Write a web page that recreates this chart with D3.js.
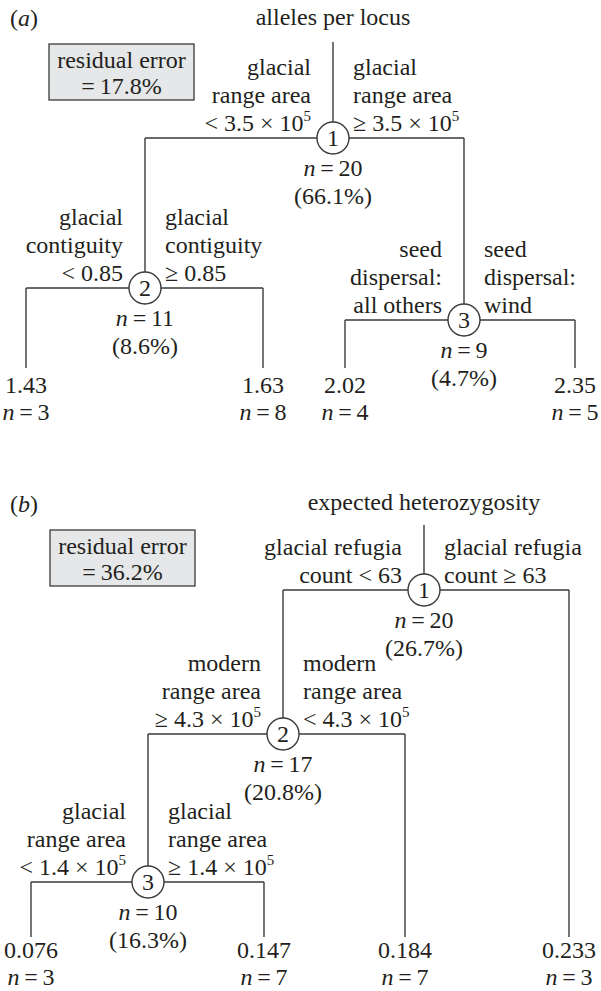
<!DOCTYPE html>
<html>
<head>
<meta charset="utf-8">
<script src="https://cdn.jsdelivr.net/npm/d3@7"></script>
<style>
  body { margin: 0; background: #fff; }
  svg { display: block; font-family: "Liberation Serif", "Times New Roman", serif; }
</style>
</head>
<body>
<svg id="chart" width="601" height="991"></svg>
<script>
// ---- panel (a): alleles per locus
const titleA = 'alleles per locus';
const residualA = '17.8%';
const splitIdsA = ['1', '2', '3'];
const splitParentA = [null, '1', '1'];
const splitNA = [20, 11, 9];
const splitPctA = ['66.1%', '8.6%', '4.7%'];
const leftRuleA = [['glacial', 'range area', '< 3.5 × 10^5'], ['glacial', 'contiguity', '< 0.85'], ['seed', 'dispersal:', 'all others']];
const rightRuleA = [['glacial', 'range area', '≥ 3.5 × 10^5'], ['glacial', 'contiguity', '≥ 0.85'], ['seed', 'dispersal:', 'wind']];
const leafParentA = ['2', '2', '3', '3'];
const leafValueA = ['1.43', '1.63', '2.02', '2.35'];
const leafNA = [3, 8, 4, 5];

// ---- panel (b): expected heterozygosity
const titleB = 'expected heterozygosity';
const residualB = '36.2%';
const splitIdsB = ['1', '2', '3'];
const splitParentB = [null, '1', '2'];
const splitNB = [20, 17, 10];
const splitPctB = ['26.7%', '20.8%', '16.3%'];
const leftRuleB = [['glacial refugia', 'count < 63'], ['modern', 'range area', '≥ 4.3 × 10^5'], ['glacial', 'range area', '< 1.4 × 10^5']];
const rightRuleB = [['glacial refugia', 'count ≥ 63'], ['modern', 'range area', '< 4.3 × 10^5'], ['glacial', 'range area', '≥ 1.4 × 10^5']];
const leafParentB = ['3', '3', '2', '1'];
const leafValueB = ['0.076', '0.147', '0.184', '0.233'];
const leafNB = [3, 7, 7, 3];

// layout (pixels) kept apart from the data
const layoutA = { tag: 'a', tagY: 26, titleX: 333, titleY: 25, stemTop: 42, box: [49, 44],
  nodeX: [333, 145, 464], nodeY: [138, 288, 320], leafX: [26, 263, 345, 575], leafEnd: 368, leafY: 393 };
const layoutB = { tag: 'b', tagY: 512, titleX: 424, titleY: 510, stemTop: 525, box: [50, 530],
  nodeX: [424, 283, 148], nodeY: [590, 734, 882], leafX: [31, 264, 405, 569], leafEnd: 937, leafY: 958 };

const FS = 24, LH = 28, R = 16, INK = '#231f20', LINE = '#3a3a3a';
const TS = '\u2009'; // thin space around "="
const svg = d3.select('#chart');

function rich(g, str, x, y, anchor) {
  const t = g.append('text').attr('x', x).attr('y', y).attr('text-anchor', anchor);
  const parts = str.split('^');
  t.append('tspan').text(parts[0]);
  if (parts[1]) t.append('tspan').attr('font-size', 15).attr('dy', -10).text(parts[1]);
  return t;
}
function nText(g, n, x, y) {
  const t = g.append('text').attr('x', x).attr('y', y).attr('text-anchor', 'middle');
  t.append('tspan').attr('font-style', 'italic').text('n');
  t.append('tspan').text(TS + '=' + TS + n);
}

function drawTree(d, L) {
  const g = svg.append('g').attr('fill', INK).attr('font-size', FS);
  const nx = d3.scaleOrdinal().domain(d.ids).range(L.nodeX);
  const ny = d3.scaleOrdinal().domain(d.ids).range(L.nodeY);
  const lx = d3.scaleOrdinal().domain(d.leafValue.map((v, i) => i)).range(L.leafX);

  // panel tag
  const tag = g.append('text').attr('x', 10).attr('y', L.tagY);
  tag.append('tspan').text('(');
  tag.append('tspan').attr('font-style', 'italic').text(L.tag);
  tag.append('tspan').text(')');

  // residual box
  const bx = L.box[0], by = L.box[1];
  g.append('rect').attr('x', bx).attr('y', by).attr('width', 145).attr('height', 56)
    .attr('fill', '#e6e7e8').attr('stroke', LINE).attr('stroke-width', 1.3);
  g.append('text').attr('x', bx + 72.5).attr('y', by + 24).attr('text-anchor', 'middle').text('residual error');
  g.append('text').attr('x', bx + 72.5).attr('y', by + 50).attr('text-anchor', 'middle').text('=' + TS + d.residual);

  // title + stem
  g.append('text').attr('x', L.titleX).attr('y', L.titleY).attr('text-anchor', 'middle').text(d.title);
  const lines = g.append('g').attr('stroke', LINE).attr('stroke-width', 1.4).attr('fill', 'none');
  const root = d.ids[0];
  lines.append('line').attr('x1', nx(root)).attr('x2', nx(root)).attr('y1', L.stemTop).attr('y2', ny(root) - R);

  // children of every split: x positions and drop ends
  d.ids.forEach(function (id, i) {
    const kids = [];
    d.parent.forEach(function (p, j) { if (p === id) kids.push({ x: nx(d.ids[j]), y2: ny(d.ids[j]) - R }); });
    d.leafParent.forEach(function (p, j) { if (p === id) kids.push({ x: lx(j), y2: L.leafEnd }); });
    const xs = kids.map(k => k.x), y = ny(id);
    lines.append('line').attr('x1', d3.min(xs)).attr('x2', d3.max(xs)).attr('y1', y).attr('y2', y);
    kids.forEach(function (k) {
      lines.append('line').attr('x1', k.x).attr('x2', k.x).attr('y1', y).attr('y2', k.y2);
    });
  });

  // split nodes
  d.ids.forEach(function (id, i) {
    const x = nx(id), y = ny(id);
    g.append('circle').attr('cx', x).attr('cy', y).attr('r', R)
      .attr('fill', '#fff').attr('stroke', LINE).attr('stroke-width', 1.4);
    g.append('text').attr('x', x).attr('y', y + 8).attr('text-anchor', 'middle').text(id);
    const left = d.left[i], right = d.right[i];
    left.forEach(function (s, k) { rich(g, s, x - 22, y - 7 - (left.length - 1 - k) * LH, 'end'); });
    right.forEach(function (s, k) { rich(g, s, x + 20, y - 7 - (right.length - 1 - k) * LH, 'start'); });
    nText(g, d.n[i], x, y + 38);
    g.append('text').attr('x', x).attr('y', y + 66).attr('text-anchor', 'middle').text('(' + d.pct[i] + ')');
  });

  // leaves
  d.leafValue.forEach(function (v, j) {
    g.append('text').attr('x', lx(j)).attr('y', L.leafY).attr('text-anchor', 'middle').text(v);
    nText(g, d.leafN[j], lx(j), L.leafY + 27);
  });
}

drawTree({ title: titleA, residual: residualA, ids: splitIdsA, parent: splitParentA, n: splitNA, pct: splitPctA,
  left: leftRuleA, right: rightRuleA, leafParent: leafParentA, leafValue: leafValueA, leafN: leafNA }, layoutA);
drawTree({ title: titleB, residual: residualB, ids: splitIdsB, parent: splitParentB, n: splitNB, pct: splitPctB,
  left: leftRuleB, right: rightRuleB, leafParent: leafParentB, leafValue: leafValueB, leafN: leafNB }, layoutB);
</script>
</body>
</html>
